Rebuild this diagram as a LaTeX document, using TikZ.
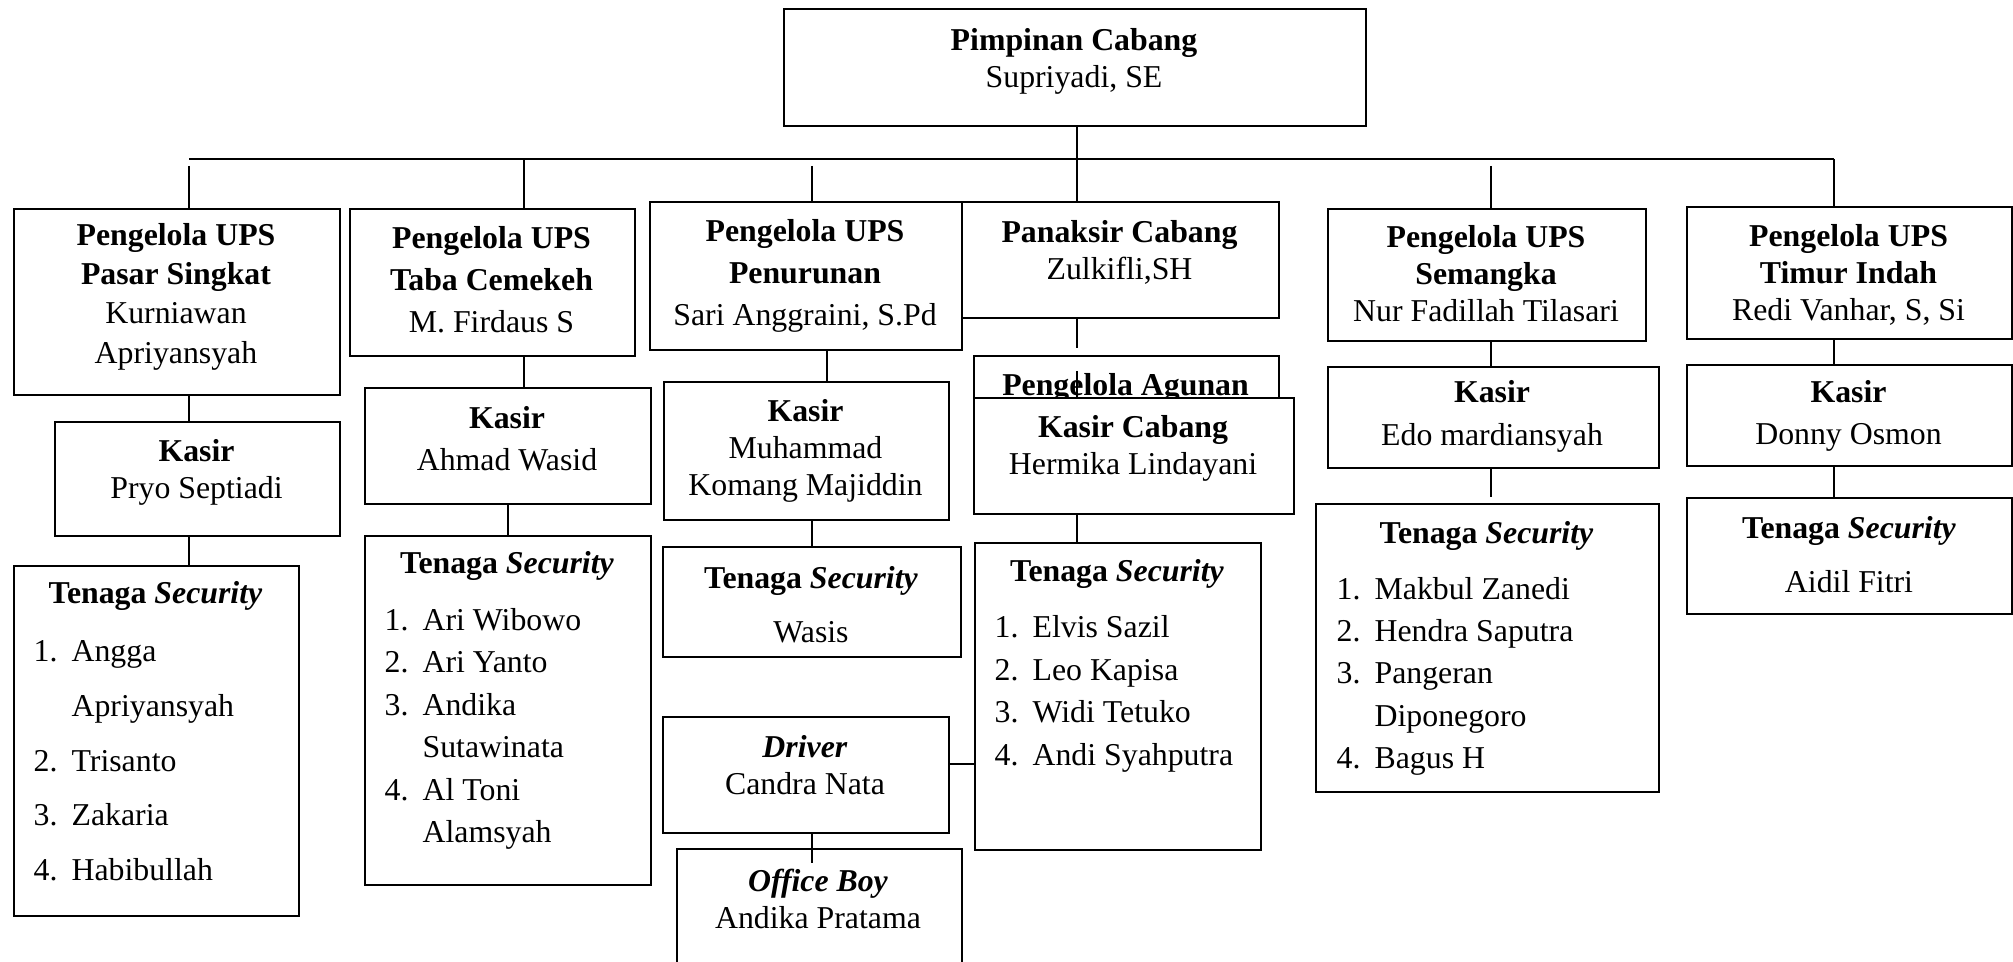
\documentclass[tikz,border=0pt]{standalone}
\usepackage{fontspec}
\setmainfont{Liberation Serif}
\usepackage{tikz}

\tikzset{
  box/.style={draw, line width=0.6pt, fill=white, anchor=north west, inner sep=0pt},
  txt/.style={align=center, inner sep=0pt},
  list/.style={anchor=west, inner sep=0pt},
  conn/.style={line width=0.4pt}
}

\begin{document}
\begin{tikzpicture}[font=\fontsize{9.05}{10.5}\selectfont]
\useasboundingbox (0,0) rectangle (20.13,-9.62);

% Pimpinan cabang
\node[box, minimum width=5.82cm, minimum height=1.17cm] (top) at (7.83,-0.08) {};
\node[txt] (top-t) at (10.74,-0.61) {\textbf{Pimpinan Cabang}\\Supriyadi, SE};

% Pengelola agunan (tertutup kasir cabang)
\node[box, minimum width=3.05cm, minimum height=0.80cm] (agunan) at (9.73,-3.55) {};
\node[anchor=base, inner sep=0pt] (agunan-t) at (11.255,-3.96) {\textbf{Pengelola Agunan}};

% Baris pengelola UPS dan penaksir
\node[box, minimum width=3.26cm, minimum height=1.86cm] (ups1) at (0.13,-2.08) {};
\node[txt] (ups1-t) at (1.76,-2.97) {\textbf{Pengelola UPS}\\[0.5pt]\textbf{Pasar Singkat}\\[0.5pt]Kurniawan\\[1pt]Apriyansyah};

\node[box, minimum width=2.85cm, minimum height=1.47cm] (ups2) at (3.49,-2.08) {};
\node[txt] (ups2-t) at (4.915,-2.80) {\textbf{Pengelola UPS}\\[1.5pt]\textbf{Taba Cemekeh}\\[1.5pt]M. Firdaus S};

\node[box, minimum width=3.12cm, minimum height=1.48cm] (ups3) at (6.49,-2.01) {};
\node[txt] (ups3-t) at (8.05,-2.76) {\textbf{Pengelola UPS}\\[1.5pt]\textbf{Penurunan}\\[1.5pt]Sari Anggraini, S.Pd};

\node[box, minimum width=3.17cm, minimum height=1.16cm] (penaksir) at (9.61,-2.01) {};
\node[txt] (penaksir-t) at (11.195,-2.52) {\textbf{Panaksir Cabang}\\Zulkifli,SH};

\node[box, minimum width=3.18cm, minimum height=1.32cm] (ups4) at (13.27,-2.08) {};
\node[txt] (ups4-t) at (14.86,-2.74) {\textbf{Pengelola UPS}\\\textbf{Semangka}\\Nur Fadillah Tilasari};

\node[box, minimum width=3.25cm, minimum height=1.32cm] (ups5) at (16.86,-2.06) {};
\node[txt] (ups5-t) at (18.485,-2.75) {\textbf{Pengelola UPS}\\\textbf{Timur Indah}\\Redi Vanhar, S, Si};

% Kasir
\node[box, minimum width=2.85cm, minimum height=1.14cm] (kasir1) at (0.54,-4.21) {};
\node[txt] (kasir1-t) at (1.965,-4.72) {\textbf{Kasir}\\Pryo Septiadi};

\node[box, minimum width=2.86cm, minimum height=1.16cm] (kasir2) at (3.64,-3.87) {};
\node[txt] (kasir2-t) at (5.07,-4.385) {\textbf{Kasir}\\[1.6pt]Ahmad Wasid};

\node[box, minimum width=2.85cm, minimum height=1.38cm] (kasir3) at (6.63,-3.81) {};
\node[txt] (kasir3-t) at (8.055,-4.51) {\textbf{Kasir}\\Muhammad\\Komang Majiddin};

\node[box, minimum width=3.20cm, minimum height=1.16cm] (kasircab) at (9.73,-3.97) {};
\node[txt] (kasircab-t) at (11.33,-4.48) {\textbf{Kasir Cabang}\\Hermika Lindayani};

\node[box, minimum width=3.31cm, minimum height=1.01cm] (kasir4) at (13.27,-3.66) {};
\node[txt] (kasir4-t) at (14.92,-4.165) {\textbf{Kasir}\\[1.6pt]Edo mardiansyah};

\node[box, minimum width=3.25cm, minimum height=1.01cm] (kasir5) at (16.86,-3.64) {};
\node[txt] (kasir5-t) at (18.485,-4.16) {\textbf{Kasir}\\[1.5pt]Donny Osmon};

% Tenaga security
\node[box, minimum width=2.85cm, minimum height=3.50cm] (sec1) at (0.13,-5.65) {};
\node[txt] (sec1-h) at (1.555,-5.96) {\textbf{Tenaga \textit{Security}}};
\node[list] (sec1-l) at (0.33,-7.60) {\renewcommand{\arraystretch}{1.49}%
  \begin{tabular}{@{}l@{\hspace{4pt}}l@{}}
  1. & Angga\\ & Apriyansyah\\ 2. & Trisanto\\ 3. & Zakaria\\ 4. & Habibullah
  \end{tabular}};

\node[box, minimum width=2.86cm, minimum height=3.49cm] (sec2) at (3.64,-5.35) {};
\node[txt] (sec2-h) at (5.07,-5.66) {\textbf{Tenaga \textit{Security}}};
\node[list] (sec2-l) at (3.84,-7.28) {\renewcommand{\arraystretch}{1.15}%
  \begin{tabular}{@{}l@{\hspace{4pt}}l@{}}
  1. & Ari Wibowo\\ 2. & Ari Yanto\\ 3. & Andika\\ & Sutawinata\\ 4. & Al Toni\\ & Alamsyah
  \end{tabular}};

\node[box, minimum width=2.98cm, minimum height=1.10cm] (sec3) at (6.62,-5.46) {};
\node[txt] (sec3-t) at (8.11,-6.05) {\textbf{Tenaga \textit{Security}}\\[4.9pt]Wasis};

\node[box, minimum width=2.86cm, minimum height=3.07cm] (sec4) at (9.74,-5.42) {};
\node[txt] (sec4-h) at (11.17,-5.74) {\textbf{Tenaga \textit{Security}}};
\node[list] (sec4-l) at (9.94,-6.93) {\renewcommand{\arraystretch}{1.15}%
  \begin{tabular}{@{}l@{\hspace{4pt}}l@{}}
  1. & Elvis Sazil\\ 2. & Leo Kapisa\\ 3. & Widi Tetuko\\ 4. & Andi Syahputra
  \end{tabular}};

\node[box, minimum width=3.43cm, minimum height=2.88cm] (sec5) at (13.15,-5.03) {};
\node[txt] (sec5-h) at (14.865,-5.36) {\textbf{Tenaga \textit{Security}}};
\node[list] (sec5-l) at (13.36,-6.755) {\renewcommand{\arraystretch}{1.15}%
  \begin{tabular}{@{}l@{\hspace{4pt}}l@{}}
  1. & Makbul Zanedi\\ 2. & Hendra Saputra\\ 3. & Pangeran\\ & Diponegoro\\ 4. & Bagus H
  \end{tabular}};

\node[box, minimum width=3.25cm, minimum height=1.16cm] (sec6) at (16.86,-4.97) {};
\node[txt] (sec6-t) at (18.49,-5.55) {\textbf{Tenaga \textit{Security}}\\[4.9pt]Aidil Fitri};

% Driver dan office boy
\node[box, minimum width=2.86cm, minimum height=1.16cm] (driver) at (6.62,-7.16) {};
\node[txt] (driver-t) at (8.05,-7.655) {\textbf{\textit{Driver}}\\Candra Nata};

\node[box, minimum width=2.85cm, minimum height=1.60cm] (office) at (6.76,-8.48) {};
\node[txt] (office-t) at (8.18,-8.985) {\textbf{\textit{Office Boy}}\\Andika Pratama};

% Garis hubung
\coordinate (d1) at (1.89,-1.59);
\coordinate (d2) at (5.24,-1.59);
\coordinate (d3) at (8.12,-1.59);
\coordinate (d3b) at (8.27,-1.59);
\coordinate (pk) at (10.77,-1.59);
\coordinate (d4) at (14.91,-1.59);
\coordinate (d5) at (18.34,-1.59);
\coordinate (drv) at (9.48,-7.64);

\draw[conn] (d1) -- (d5);
\draw[conn] (top.south -| pk) -- (pk |- penaksir.north);
\foreach \d/\b in {d1/ups1, d3/ups3, d4/ups4}
  \draw[conn, shorten <=0.7mm] (\d) -- (\d |- \b.north);
\foreach \d/\b in {d2/ups2, d5/ups5}
  \draw[conn] (\d) -- (\d |- \b.north);

\draw[conn] (d1 |- ups1.south) -- (d1 |- kasir1.north);
\draw[conn] (d1 |- kasir1.south) -- (d1 |- sec1.north);
\draw[conn] (d2 |- ups2.south) -- (d2 |- kasir2.north);
\draw[conn] (kasir2.south) -- (kasir2.south |- sec2.north);
\draw[conn] (d3b |- ups3.south) -- (d3b |- kasir3.north);
\draw[conn] (d3 |- kasir3.south) -- (d3 |- sec3.north);
\draw[conn, shorten >=-1.5mm] (d3 |- driver.south) -- (d3 |- office.north);
\draw[conn] (drv) -- (drv -| sec4.west);
\draw[conn, shorten >=0.7mm] (pk |- penaksir.south) -- (pk |- agunan.north);
\draw[conn, shorten <=1.6mm] (pk |- agunan.north) -- (pk |- kasircab.north);
\draw[conn] (pk |- kasircab.south) -- (pk |- sec4.north);
\draw[conn] (d4 |- ups4.south) -- (d4 |- kasir4.north);
\draw[conn, shorten >=0.6mm] (d4 |- kasir4.south) -- (d4 |- sec5.north);
\draw[conn] (d5 |- ups5.south) -- (d5 |- kasir5.north);
\draw[conn] (d5 |- kasir5.south) -- (d5 |- sec6.north);
\end{tikzpicture}
\end{document}
